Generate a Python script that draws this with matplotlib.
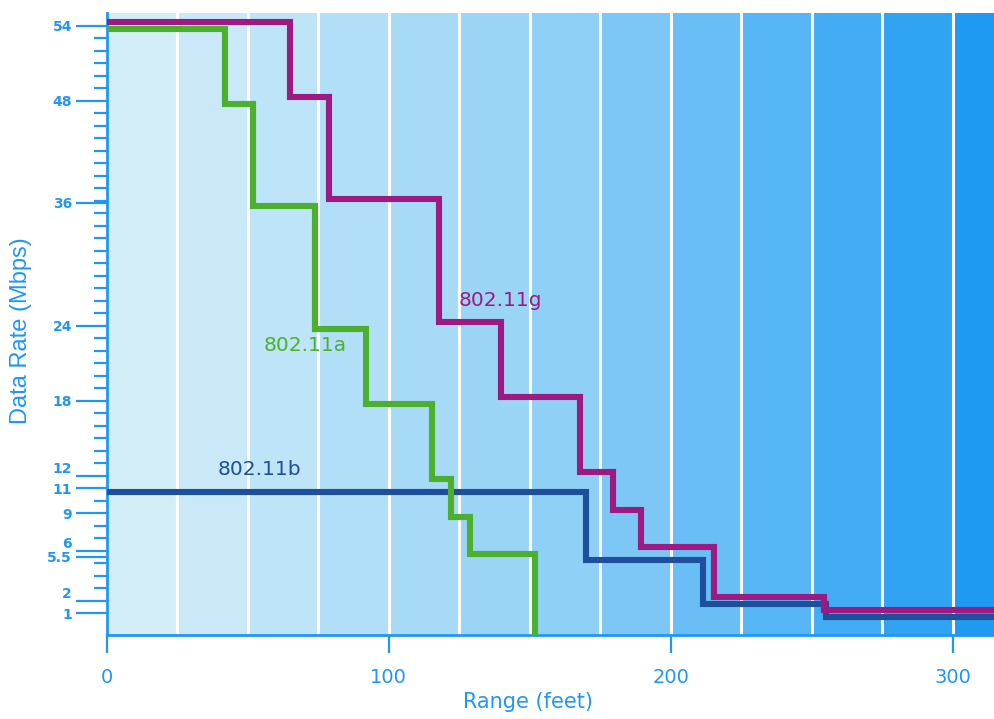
import numpy as np
import matplotlib
matplotlib.use("Agg")
import matplotlib.pyplot as plt
from matplotlib.colors import LinearSegmentedColormap
from matplotlib.transforms import ScaledTranslation


# ---- data -------------------------------------------------
# range (feet) where each rate starts, rate in Mbps
G_RANGE = [0, 65, 79, 118, 140, 168, 179.5, 189.5, 215.5, 254.5, 330]
G_RATE = [54, 48, 36, 24, 18, 12, 9, 6, 2, 1, 1]

A_RANGE = [0, 42, 52, 74, 92, 115.5, 122, 129, 152]
A_RATE = [54, 48, 36, 24, 18, 12, 9, 6, 0]

B_RANGE = [0, 170, 211.5, 255, 330]
B_RATE = [11, 5.5, 2, 1, 1]

Y_TICKS = [1, 2, 5.5, 6, 9, 11, 12, 18, 24, 36, 48, 54]
Y_TICK_LABELS = ["1", "2", "5.5", "6", "9", "11", "12", "18", "24", "36", "48", "54"]
X_TICKS = [0, 100, 200, 300]

# the y axis of the original is not linear: each rate sits on its own tick row
SCALE_RATES = [0, 1, 2, 5.5, 6, 9, 11, 12, 18, 24, 36, 48, 54, 60]
SCALE_ROWS = [0, 1.76, 2.76, 6.26, 6.76, 9.76, 11.76, 12.76, 18.76, 24.76, 34.6, 42.76, 48.76, 54.76]


def fwd(v):
    return np.interp(v, SCALE_RATES, SCALE_ROWS)


def inv(p):
    return np.interp(p, SCALE_ROWS, SCALE_RATES)


AXIS_BLUE = "#2196f3"
MAGENTA = "#9c1a82"
GREEN = "#4caf2e"
NAVY = "#1d4f9c"

fig = plt.figure(figsize=(9.95, 7.19), dpi=100)
ax = fig.add_axes([0.1072, 0.1168, 0.8928, 0.8651])
ax.set_yscale("function", functions=(fwd, inv))
ax.set_xlim(0, 315)
ax.set_ylim(0, 55)

# background bands, one every 25 feet, getting bluer to the right
cmap = LinearSegmentedColormap.from_list("bands", ["#d4eef8", "#8fd0f6", "#1e9af3"])
for i in range(13):
    ax.axvspan(i * 25, (i + 1) * 25, color=cmap(i / 12), lw=0, zorder=0)
    if i > 0:
        ax.axvline(i * 25, color="white", lw=2.2, zorder=1)

lw = 4.4
up = ScaledTranslation(0, 2.2 / 72, fig.dpi_scale_trans)
down = ScaledTranslation(0, -2.6 / 72, fig.dpi_scale_trans)
ax.plot(B_RANGE, B_RATE, drawstyle="steps-post", color=NAVY, lw=lw,
        solid_joinstyle="miter", transform=ax.transData + down, zorder=3)
ax.plot(A_RANGE, A_RATE, drawstyle="steps-post", color=GREEN, lw=lw,
        solid_joinstyle="miter", transform=ax.transData + down, zorder=3)
ax.plot(G_RANGE, G_RATE, drawstyle="steps-post", color=MAGENTA, lw=lw,
        solid_joinstyle="miter", transform=ax.transData + up, zorder=4)

ax.text(139.5, 26.4, "802.11g", color=MAGENTA, fontsize=14.5, ha="center", va="center")
ax.text(70.5, 22.4, "802.11a", color=GREEN, fontsize=14.5, ha="center", va="center")
ax.text(54, 12.45, "802.11b", color=NAVY, fontsize=14.5, ha="center", va="center")

# axes styling
for s in ["top", "right"]:
    ax.spines[s].set_visible(False)
for s in ["left", "bottom"]:
    ax.spines[s].set_color(AXIS_BLUE)
    ax.spines[s].set_linewidth(2)

ax.set_yticks(Y_TICKS)
ax.set_yticklabels(Y_TICK_LABELS, fontweight="bold", fontsize=10,
                   family=["Liberation Sans Narrow", "DejaVu Sans"])
# stacked labels: upper one sits above its tick, lower one a bit below
for lab in ax.get_yticklabels():
    if lab.get_text() in ("12", "6", "2"):
        lab.set_va("bottom")
    elif lab.get_text() in ("11", "5.5", "1"):
        lab.set_va("center_baseline")
ax.set_yticks(inv(np.arange(1.76, 49, 1.0)), minor=True)
ax.tick_params(axis="y", which="major", length=22, width=1.6, color=AXIS_BLUE,
               labelcolor=AXIS_BLUE, pad=3)
ax.tick_params(axis="y", which="minor", length=9.5, width=1.6, color=AXIS_BLUE)

ax.set_xticks(X_TICKS)
ax.set_xticklabels([str(t) for t in X_TICKS], fontsize=14)
ax.tick_params(axis="x", length=13, width=1.6, color=AXIS_BLUE,
               labelcolor=AXIS_BLUE, pad=11)

ax.set_xlabel("Range (feet)", color=AXIS_BLUE, fontsize=15)
ax.xaxis.set_label_coords(0.474, -0.092)
ax.set_ylabel("Data Rate (Mbps)", color=AXIS_BLUE, fontsize=17,
              family=["Liberation Sans", "DejaVu Sans"])
ax.yaxis.set_label_coords(-0.084, 0.49)

fig.savefig("out.png", dpi=100, facecolor="white")
